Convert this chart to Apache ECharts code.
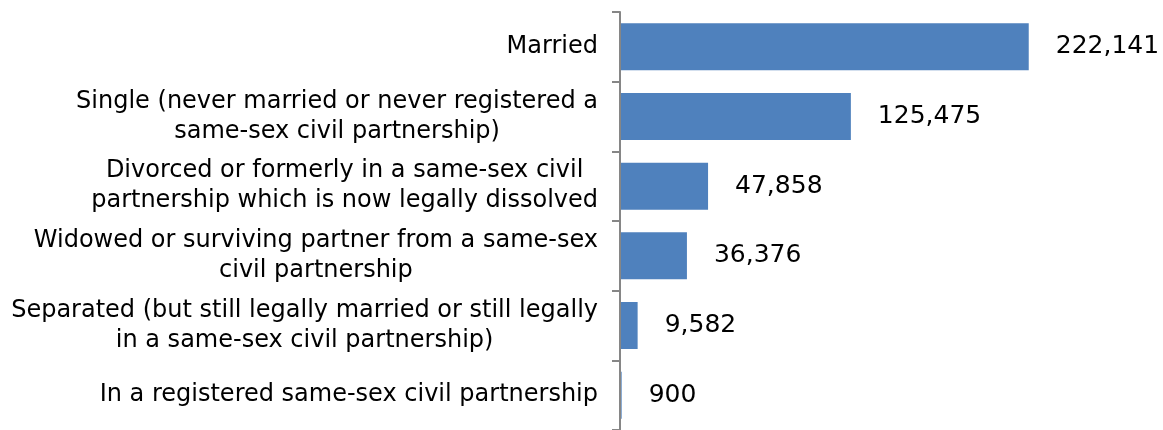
<html>
    <head>
        <meta charset="UTF-8" />
        <script src="https://cdn.jsdelivr.net/npm/echarts@6/dist/echarts.min.js"></script>
        <style>
            body { margin: 0; background: #fff; }
        </style>
    </head>
    <body>
        <div id="container" style="width: 1163px; height: 430px;"></div>
        <script>
            // marital status categories, top to bottom
            var categories = [
                'Married',
                'Single (never married or never registered a\nsame-sex civil partnership)',
                'Divorced or formerly in a same-sex civil\npartnership which is now legally dissolved',
                'Widowed or surviving partner from a same-sex\ncivil partnership',
                'Separated (but still legally married or still legally\nin a same-sex civil partnership)',
                'In a registered same-sex civil partnership'
            ];
            var counts = [222141, 125475, 47858, 36376, 9582, 900];

            var font = '"DejaVu Sans", Verdana, sans-serif';

            var chart = echarts.init(document.getElementById('container'));
            var option = {
                animation: false,
                grid: { left: 620, top: 12, width: 460, height: 422 },
                xAxis: {
                    type: 'value',
                    min: 0,
                    max: 250000,
                    show: false
                },
                yAxis: {
                    type: 'category',
                    inverse: true,
                    data: categories,
                    z: 5,
                    axisLine: { show: true, lineStyle: { color: '#868686', width: 2 } },
                    axisTick: { show: true, alignWithLabel: false, interval: 0, length: 8, lineStyle: { color: '#868686', width: 2 } },
                    axisLabel: {
                        margin: 22,
                        interval: 0,
                        formatter: function (v) {
                            return v.split('\n').map(function (s) { return '{c|' + s + '}'; }).join('\n');
                        },
                        rich: {
                            c: { align: 'center', fontSize: 24, lineHeight: 30, fontFamily: font, color: '#000' }
                        }
                    },
                    splitLine: { show: false }
                },
                series: [{
                    type: 'bar',
                    data: counts,
                    barWidth: 47,
                    itemStyle: { color: '#4F81BD' },
                    label: {
                        show: true,
                        position: 'right',
                        distance: 27,
                        fontSize: 25,
                        fontFamily: font,
                        color: '#000',
                        formatter: function (p) { return p.value.toLocaleString('en-US'); }
                    }
                }]
            };
            chart.setOption(option);
        </script>
    </body>
</html>
